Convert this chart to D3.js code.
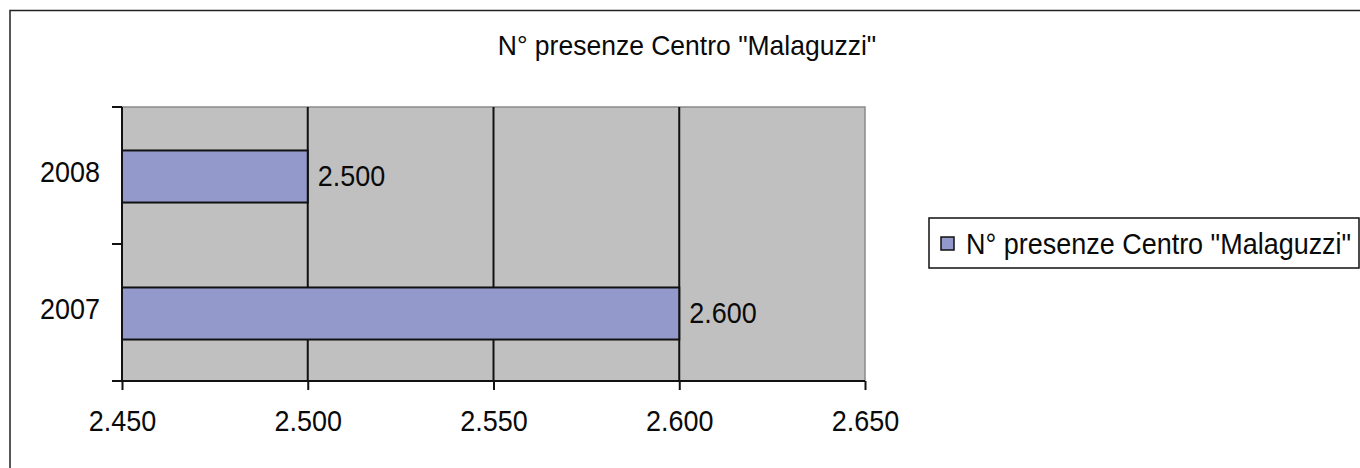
<!DOCTYPE html>
<html><head><meta charset="utf-8">
<script src="https://cdn.jsdelivr.net/npm/d3@7"></script>
<style>body{margin:0;background:#fff}svg{display:block}text{font-family:"Liberation Sans",Arial,sans-serif;fill:#0a0a0a}</style>
</head><body>
<svg id="c" width="1360" height="468"></svg>
<script>
const title = 'N° presenze Centro "Malaguzzi"';
const seriesName = 'N° presenze Centro "Malaguzzi"';
const categories = ["2008", "2007"];
const values = [2500, 2600];
const xTicks = [2450, 2500, 2550, 2600, 2650];

const svg = d3.select("#c");
const W = 1360, H = 468;
const plot = {l: 122, t: 107, r: 865, b: 381};
const FS = "29px", SX = 0.93;
const loc = d3.formatLocale({decimal: ",", thousands: ".", grouping: [3], currency: ["", "€"]});
const fmt = loc.format(",d");
const tr = (x, y) => `translate(${x},${y}) scale(${SX},1)`;

// outer frame
svg.append("path").attr("d", `M10,${H+2}V10.5H${W+2}`).attr("fill","none").attr("stroke","#222").attr("stroke-width",1.5);

svg.append("text").attr("transform", tr(687, 55)).attr("text-anchor","middle").style("font-size","28.5px").text(title);

const x = d3.scaleLinear().domain([2450, 2650]).range([plot.l, plot.r]);
const y = d3.scaleBand().domain(categories).range([plot.t + 1, plot.b + 1]).paddingInner(0.62).paddingOuter(0.31);

svg.append("rect").attr("x", plot.l).attr("y", plot.t).attr("width", plot.r-plot.l).attr("height", plot.b-plot.t)
  .attr("fill","#c0c0c0").attr("stroke","#8a8a8a").attr("stroke-width",1.5);

// gridlines
svg.append("g").selectAll("line").data(xTicks.slice(1, -1)).join("line")
  .attr("x1", d=>x(d)).attr("x2", d=>x(d)).attr("y1", plot.t).attr("y2", plot.b)
  .attr("stroke","#111").attr("stroke-width",2);

// bars
svg.append("g").selectAll("rect").data(categories).join("rect")
  .attr("x", x(2450)).attr("y", d=>y(d)).attr("height", y.bandwidth())
  .attr("width", (d,i)=>x(values[i]) - x(2450))
  .attr("fill","#9499cb").attr("stroke","#111").attr("stroke-width",2);

// value labels
svg.append("g").selectAll("text").data(categories).join("text")
  .attr("transform", (d,i)=>tr(x(values[i]) + 10, y(d)+y.bandwidth()/2+9))
  .style("font-size",FS).text((d,i)=>fmt(values[i]));

// x axis
const xa = svg.append("g").attr("transform", `translate(0,${plot.b})`)
  .call(d3.axisBottom(x).tickValues(xTicks).tickFormat(fmt).tickSize(9).tickSizeOuter(0).tickPadding(20));
xa.select(".domain").attr("stroke","#111").attr("stroke-width",2).attr("d", `M${plot.l-10},0H${plot.r}`);
xa.selectAll(".tick line").attr("stroke","#111").attr("stroke-width",2);
xa.selectAll(".tick text").style("font-size",FS).style("font-family",'"Liberation Sans",Arial,sans-serif')
  .attr("fill","#0a0a0a").attr("transform", `scale(${SX},1)`);

// y axis
const ya = svg.append("g").attr("transform", `translate(${plot.l},0)`);
ya.append("line").attr("x1",0).attr("x2",0).attr("y1",plot.t).attr("y2",plot.b).attr("stroke","#111").attr("stroke-width",2);
const step = (plot.b-plot.t)/categories.length;
ya.selectAll("line.tk").data(d3.range(categories.length+1)).join("line").attr("class","tk")
  .attr("x1",-10).attr("x2",0)
  .attr("y1", i=>plot.t + i*step).attr("y2", i=>plot.t + i*step)
  .attr("stroke","#111").attr("stroke-width",2);
ya.selectAll("text").data(categories).join("text")
  .attr("transform", d=>tr(-22, y(d)+y.bandwidth()/2+5)).attr("text-anchor","end")
  .style("font-size",FS).text(d=>d);

// legend
const lg = svg.append("g");
lg.append("rect").attr("x",929).attr("y",218).attr("width",430).attr("height",50).attr("fill","#fff").attr("stroke","#111").attr("stroke-width",1.5);
lg.append("rect").attr("x",941).attr("y",237).attr("width",13).attr("height",13).attr("fill","#9499cb").attr("stroke","#111").attr("stroke-width",1.5);
lg.append("text").attr("transform", tr(966, 254)).style("font-size",FS).text(seriesName);
</script>
</body></html>
